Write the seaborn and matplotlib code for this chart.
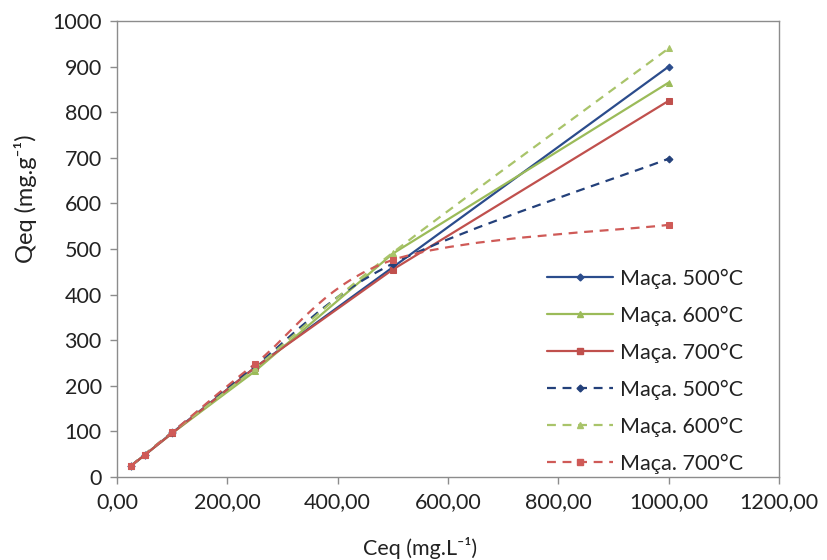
import numpy as np
import pandas as pd
import matplotlib
matplotlib.use("Agg")
import matplotlib.pyplot as plt
from matplotlib.path import Path
from matplotlib.patches import PathPatch
from matplotlib.lines import Line2D
from matplotlib.ticker import FuncFormatter, MultipleLocator
import seaborn as sns

# Equilibrium concentration (mg/L)
ceq = [25, 50, 100, 250, 500, 1000]

# Adsorbed quantity (mg/g), solid series
q_500 = [24, 48, 97, 240, 460, 900]
q_600 = [24, 48, 96, 232, 490, 865]
q_700 = [24, 48, 96, 240, 455, 825]

# Adsorbed quantity (mg/g), dashed series
q_500_b = [24, 49, 98, 243, 468, 698]
q_600_b = [24, 49, 98, 238, 492, 940]
q_700_b = [24, 49, 98, 248, 476, 553]

labels = ["Maça. 500°C", "Maça. 600°C", "Maça. 700°C"]

sns.set_theme(style="white")
plt.rcParams["font.family"] = ["Lato", "DejaVu Sans"]

fig = plt.figure(figsize=(8.27, 5.6), dpi=100)
ax = fig.add_axes([117 / 827, 1 - 477 / 560, (779 - 117) / 827, (477 - 21) / 560])

solid_styles = [
    (q_500, "#2B4C8C", "D", 3.5),
    (q_600, "#9BBB59", "^", 4.5),
    (q_700, "#C0504D", "s", 5.0),
]
dashed_styles = [
    (q_500_b, "#23407A", "D", 3.5),
    (q_600_b, "#A9C46A", "^", 4.5),
    (q_700_b, "#CF5A57", "s", 5.0),
]

lw = 1.6
fs = 15.5
txt_col = "#222222"


def smooth_path(xs, ys):
    """Cubic Bezier path through the points (Catmull-Rom style tangents)."""
    pts = np.column_stack([xs, ys]).astype(float)
    n = len(pts)
    verts = [pts[0]]
    codes = [Path.MOVETO]
    for i in range(n - 1):
        p_prev = pts[i - 1] if i > 0 else pts[i]
        p0 = pts[i]
        p1 = pts[i + 1]
        p_next = pts[i + 2] if i + 2 < n else pts[i + 1]
        c1 = p0 + (p1 - p_prev) / 6.0
        c2 = p1 - (p_next - p0) / 6.0
        verts += [c1, c2, p1]
        codes += [Path.CURVE4] * 3
    return Path(verts, codes)


handles = []
for vals, col, mk, ms in solid_styles:
    sns.lineplot(x=ceq, y=vals, ax=ax, color=col, linewidth=lw, marker=mk,
                 markersize=ms, markeredgecolor=col, markerfacecolor=col,
                 legend=False, zorder=3)
    handles.append(Line2D([], [], color=col, lw=lw, marker=mk, markersize=ms,
                          markeredgecolor=col, markerfacecolor=col))

for vals, col, mk, ms in dashed_styles:
    patch = PathPatch(smooth_path(ceq, vals), facecolor="none", edgecolor=col,
                      linewidth=lw, linestyle=(0, (4, 3)), zorder=3)
    ax.add_patch(patch)
    sns.lineplot(x=ceq, y=vals, ax=ax, color=col, linestyle="", marker=mk,
                 markersize=ms, markeredgecolor=col, markerfacecolor=col,
                 legend=False, zorder=4)
    handles.append(Line2D([], [], color=col, lw=lw, linestyle=(0, (4, 3)),
                          marker=mk, markersize=ms, markeredgecolor=col,
                          markerfacecolor=col))

ax.set_xlim(0, 1200)
ax.set_ylim(0, 1000)
ax.xaxis.set_major_locator(MultipleLocator(200))
ax.yaxis.set_major_locator(MultipleLocator(100))
ax.xaxis.set_major_formatter(FuncFormatter(lambda v, p: f"{v:.2f}".replace(".", ",")))
ax.yaxis.set_major_formatter(FuncFormatter(lambda v, p: f"{int(v)}"))

spine_col = "#8C8C8C"
for s in ax.spines.values():
    s.set_color(spine_col)
    s.set_linewidth(1.0)
ax.tick_params(axis="both", which="major", direction="out", length=5, width=1.0,
               color=spine_col, labelsize=fs, labelcolor=txt_col,
               bottom=True, left=True, pad=6)

ax.set_xlabel("Ceq (mg.L⁻¹)", fontsize=fs, color=txt_col)
ax.set_ylabel("Qeq (mg.g⁻¹)", fontsize=17, color=txt_col)
ax.xaxis.set_label_coords(0.458, -0.132)
ax.yaxis.set_label_coords(-0.121, 0.61)

ax.legend(handles, labels * 2, loc="lower right", frameon=False,
          fontsize=fs, handlelength=3.1, handletextpad=0.3,
          labelspacing=0.78, bbox_to_anchor=(0.975, -0.035),
          labelcolor=txt_col)

fig.savefig("out.png", dpi=100)
